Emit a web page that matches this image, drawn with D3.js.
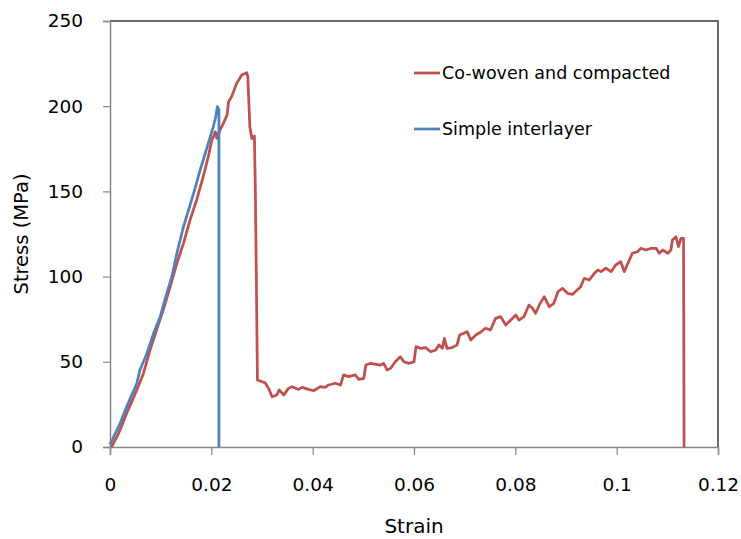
<!DOCTYPE html>
<html>
<head>
<meta charset="utf-8">
<script src="https://cdn.jsdelivr.net/npm/d3@7"></script>
<style>
  html, body { margin: 0; padding: 0; background: #fff; }
  svg { display: block; }
</style>
</head>
<body>
<svg id="chart" width="741" height="539"></svg>
<script>
// Tensile test curves: stress vs strain for two laminate configurations
const xTicks = [0, 0.02, 0.04, 0.06, 0.08, 0.1, 0.12];
const xTickLabels = ["0", "0.02", "0.04", "0.06", "0.08", "0.1", "0.12"];
const yTicks = [0, 50, 100, 150, 200, 250];

const seriesNames = ["Co-woven and compacted", "Simple interlayer"];
const seriesColors = ["#C0504D", "#4F81BD"];

const blueStrain = [0, 0.0020, 0.0033, 0.0053, 0.0059, 0.0073, 0.0086, 0.0099, 0.0112, 0.0122,
  0.0132, 0.0145, 0.0155, 0.0165, 0.0178, 0.0188, 0.0198, 0.0204, 0.0208, 0.0212, 0.0215, 0.0215];
const blueStress = [1.5, 13.9, 23.7, 37.4, 45.2, 55, 66.7, 76.5, 90.2, 99.9,
  113.7, 129.3, 139, 148.9, 162.6, 172.4, 182.1, 188, 192.9, 199.7, 197.8, 0];

const redStrain = [0.0003, 0.0017, 0.0033, 0.0053, 0.0066, 0.0079, 0.0092, 0.0105, 0.0119, 0.0132,
  0.0145, 0.0158, 0.0171, 0.0184, 0.0194, 0.0201, 0.0204, 0.0208, 0.0211, 0.0217,
  0.0224, 0.0231, 0.0234, 0.0240, 0.0250, 0.0260, 0.0270, 0.0272, 0.0276, 0.0280,
  0.0285, 0.0287, 0.0291, 0.0306, 0.0313, 0.0320, 0.0329, 0.0334, 0.0343, 0.0352,
  0.0359, 0.0372, 0.0379, 0.0392, 0.0402, 0.0415, 0.0425, 0.0431, 0.0445, 0.0455,
  0.0461, 0.0471, 0.0484, 0.0491, 0.0501, 0.0505, 0.0514, 0.0534, 0.0540, 0.0547,
  0.0554, 0.0563, 0.0573, 0.0580, 0.0590, 0.0600, 0.0604, 0.0613, 0.0623, 0.0633,
  0.0643, 0.0649, 0.0656, 0.0660, 0.0665, 0.0675, 0.0685, 0.0690, 0.0698, 0.0705,
  0.0712, 0.0722, 0.0732, 0.0741, 0.0751, 0.0761, 0.0771, 0.0781, 0.0791, 0.0801,
  0.0807, 0.0817, 0.0827, 0.0834, 0.0840, 0.0849, 0.0857, 0.0867, 0.0876, 0.0884,
  0.0893, 0.0903, 0.0913, 0.0922, 0.0929, 0.0936, 0.0946, 0.0956, 0.0963, 0.0969,
  0.0979, 0.0989, 0.0998, 0.1008, 0.1015, 0.1025, 0.1031, 0.1041, 0.1048, 0.1058,
  0.1068, 0.1078, 0.1084, 0.1091, 0.1101, 0.1107, 0.1110, 0.1117, 0.1122, 0.1127,
  0.1132, 0.1133];
const redStress = [0, 8, 19.8, 33.5, 43.2, 56.9, 68.7, 80.4, 94.1, 107.8,
  119.5, 133.2, 145, 158.6, 170.4, 180.2, 182.1, 185, 181.1, 186,
  190, 194.8, 202.6, 205.6, 213.4, 218.3, 219.7, 217.3, 188, 181,
  182.5, 148.9, 39.3, 37.7, 34.4, 29.5, 30.5, 33.5, 30.5, 34.4,
  35.4, 33.8, 35, 33.8, 33, 35.4, 35, 36.4, 37.4, 36.4,
  42.3, 41.3, 42.3, 39.7, 40.3, 48.1, 49.1, 48.1, 49.1, 45.2,
  46.2, 50, 53, 50, 49.1, 50, 58.9, 57.9, 58.3, 55.9,
  56.9, 59.9, 57.9, 63.8, 57.9, 58.3, 59.9, 65.7, 66.7, 67.7,
  62.8, 65.7, 67.5, 69.7, 68.7, 75.5, 76.5, 71.6, 74.5, 77.5,
  74.5, 76.5, 83.3, 81.4, 78.5, 84.3, 88.2, 82.3, 84.3, 91.1,
  93.1, 90.2, 89.6, 92.1, 94.1, 99, 98, 101.9, 103.9, 102.9,
  104.9, 102.9, 106.8, 108.7, 102.9, 109.7, 113.7, 114.6, 116.6, 115.6,
  116.6, 116.6, 113.7, 115.6, 113.7, 115.6, 121.5, 123.4, 117.6, 122.5,
  122.5, 0];

const svg = d3.select("#chart");
const margin = { left: 110, right: 23, top: 21, bottom: 92 };
const W = 741, H = 539;
const x = d3.scaleLinear().domain([0, 0.12]).range([margin.left, W - margin.right]);
const y = d3.scaleLinear().domain([0, 250]).range([H - margin.bottom, margin.top]);

const labelFont = "'Comic Sans MS', 'DejaVu Sans', sans-serif";

// Plot frame: dark top/right edges
svg.append("path")
  .attr("d", `M${x(0)},${y(250)}H${x(0.12)}V${y(0)}`)
  .attr("fill", "none").attr("stroke", "#3a3a3a").attr("stroke-width", 1.5);

// Axes
const xAxis = svg.append("g").attr("transform", `translate(0,${y(0)})`)
  .call(d3.axisBottom(x).tickValues(xTicks).tickFormat((d, i) => xTickLabels[i]).tickSizeOuter(0).tickSize(8).tickPadding(23));
const yAxis = svg.append("g").attr("transform", `translate(${x(0)},0)`)
  .call(d3.axisLeft(y).tickValues(yTicks).tickSizeOuter(0).tickSize(7).tickPadding(20));

[xAxis, yAxis].forEach(g => {
  g.select(".domain").attr("stroke", "#868686").attr("stroke-width", 1.5);
  g.selectAll(".tick line").attr("stroke", "#868686").attr("stroke-width", 1.2);
  g.selectAll(".tick text").attr("fill", "#000").style("font-family", labelFont).style("font-size", "18.5px");
});

// Curves
const line = d3.line().x(d => x(d[0])).y(d => y(d[1]));
const redData = redStrain.map((s, i) => [s, redStress[i]]);
const blueData = blueStrain.map((s, i) => [s, blueStress[i]]);

svg.append("path").datum(redData).attr("d", line)
  .attr("fill", "none").attr("stroke", seriesColors[0]).attr("stroke-width", 2.75).attr("stroke-linejoin", "round");
svg.append("path").datum(blueData).attr("d", line)
  .attr("fill", "none").attr("stroke", seriesColors[1]).attr("stroke-width", 2.75).attr("stroke-linejoin", "round");

// Axis titles
svg.append("text").attr("x", x(0.06)).attr("y", 533).attr("text-anchor", "middle")
  .style("font-family", labelFont).style("font-size", "20px").text("Strain");
svg.append("text").attr("transform", `translate(28,${y(125)}) rotate(-90)`).attr("text-anchor", "middle")
  .style("font-family", labelFont).style("font-size", "19.5px").text("Stress (MPa)");

// Legend
const legend = svg.append("g");
seriesNames.forEach((name, i) => {
  const ly = 73 + i * 56;
  legend.append("line").attr("x1", 414).attr("x2", 440).attr("y1", ly).attr("y2", ly)
    .attr("stroke", seriesColors[i]).attr("stroke-width", 2.75);
  legend.append("text").attr("x", 442).attr("y", ly + 6)
    .style("font-family", labelFont).style("font-size", "17.5px").text(name);
});
</script>
</body>
</html>
